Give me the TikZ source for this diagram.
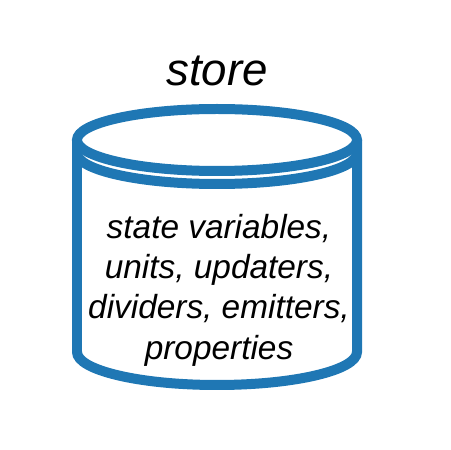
\documentclass[tikz,border=0pt]{standalone}
\usepackage{fontspec}
\setmainfont{Liberation Sans}
\usetikzlibrary{positioning}
\definecolor{storeblue}{RGB}{31,119,180}
\tikzset{
  barrel/.style={storeblue,line width=0.2cm},
  label/.style={font=\fontsize{19}{23}\selectfont\itshape,align=center,inner sep=0pt},
}
\begin{document}
\begin{tikzpicture}[x=0.02cm,y=0.02cm]
    \useasboundingbox (0,0) rectangle (450,450);
    \coordinate (topl) at (77,310);
    \coordinate (botl) at (77,98);
    \coordinate (midl) at (77,297);
    \draw[barrel] (217,310) ellipse [x radius=140,y radius=31];
    \draw[barrel] (midl) arc (180:360:140 and 31);
    \draw[barrel] (topl) -- (botl) arc (180:360:140 and 33) -- (357,310);
    \node[label,font=\fontsize{26}{30}\selectfont\itshape] (title) at (217,379) {store};
    \node[label] (contents) at (219,160) {state variables,\\units, updaters,\\dividers, emitters,\\properties};
  \end{tikzpicture}
\end{document}
